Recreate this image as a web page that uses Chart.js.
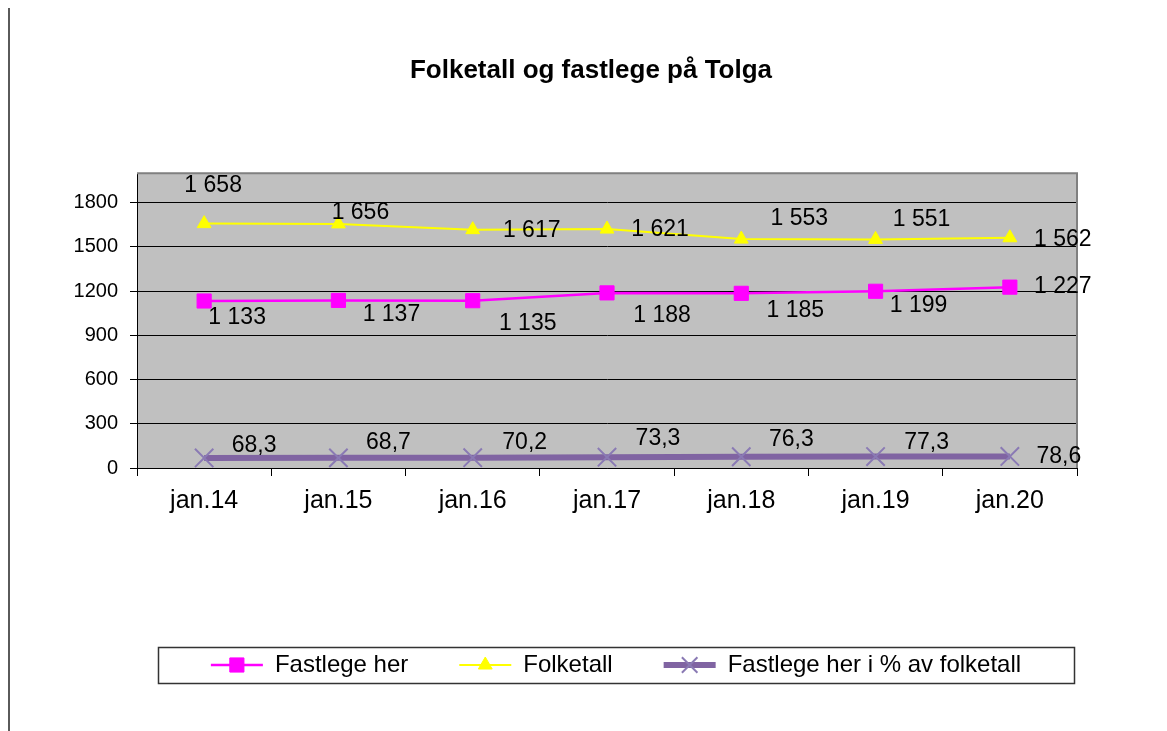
<!DOCTYPE html>
<html>
<head>
<meta charset="utf-8">
<title>Folketall og fastlege på Tolga</title>
<script src="https://cdn.jsdelivr.net/npm/chart.js@4.4.1/dist/chart.umd.min.js"></script>
<style>
  body { margin: 0; background: #fff; }
  #wrap { width: 1167px; height: 731px; }
</style>
</head>
<body>
<div id="wrap"><canvas id="chart" width="1167" height="731"></canvas></div>
<script>
// data
const categories = ["jan.14", "jan.15", "jan.16", "jan.17", "jan.18", "jan.19", "jan.20"];
const fastlegeHer = [1133, 1137, 1135, 1188, 1185, 1199, 1227];
const folketall = [1658, 1656, 1617, 1621, 1553, 1551, 1562];
const prosentAvFolketall = [68.3, 68.7, 70.2, 73.3, 76.3, 77.3, 78.6];
const yTickValues = [0, 300, 600, 900, 1200, 1500, 1800];

// where each value label sits relative to its point (px)
const labelOffsets = [
  [[33, 17], [53, 14], [55, 23], [55, 23], [54, 17], [43, 14], [53, 0]],
  [[9, -38], [22, -11], [59, 1], [53, 1], [58, -20], [46, -20], [53, 2]],
  [[50, -12], [50, -15], [52, -15], [51, -19], [50, -17], [51, -14], [49, 0]]
];

const FONT = "'Liberation Sans', Arial, sans-serif";

const formatValue = (v) => {
  if (v >= 1000) {
    return Math.floor(v / 1000) + " " + String(v % 1000).padStart(3, "0");
  }
  return v.toFixed(1).replace(".", ",");
};

const plotBackground = {
  id: "plotBackground",
  beforeDraw(chart) {
    const { ctx, chartArea: a } = chart;
    ctx.save();
    ctx.fillStyle = "#c0c0c0";
    ctx.fillRect(a.left, a.top, a.right - a.left, a.bottom - a.top);
    ctx.restore();
  },
  beforeDatasetsDraw(chart) {
    const { ctx, chartArea: a } = chart;
    ctx.save();
    ctx.strokeStyle = "#808080";
    ctx.lineWidth = 2;
    ctx.beginPath();
    ctx.moveTo(a.left, a.top);
    ctx.lineTo(a.right, a.top);
    ctx.lineTo(a.right, a.bottom);
    ctx.stroke();
    ctx.restore();
  }
};

const valueLabels = {
  id: "valueLabels",
  afterDatasetsDraw(chart) {
    const ctx = chart.ctx;
    ctx.save();
    ctx.font = "23px " + FONT;
    ctx.fillStyle = "#000";
    ctx.textAlign = "center";
    ctx.textBaseline = "middle";
    chart.data.datasets.forEach((ds, i) => {
      chart.getDatasetMeta(i).data.forEach((pt, j) => {
        const [dx, dy] = labelOffsets[i][j];
        ctx.fillText(formatValue(ds.data[j]), pt.x + dx, pt.y + dy);
      });
    });
    ctx.restore();
  }
};

// legend sits in a framed box, with a line + marker sample per series
const legendFrame = {
  id: "legendFrame",
  afterLayout(chart) {
    chart.legend.left = 158;
    chart.legend.right = 1074;
    chart.titleBlock.left = 105;
    chart.titleBlock.right = 1077;
  },
  afterDraw(chart) {
    const { ctx, legend } = chart;
    ctx.save();
    legend.legendHitBoxes.forEach((hb, i) => {
      const ds = chart.data.datasets[i];
      const y = hb.top + hb.height / 2;
      const w = legend.options.labels.boxWidth;
      ctx.strokeStyle = ds.borderColor;
      ctx.lineWidth = ds.borderWidth;
      ctx.beginPath();
      ctx.moveTo(hb.left, y);
      ctx.lineTo(hb.left + w, y);
      ctx.stroke();
      ctx.fillStyle = ds.pointBackgroundColor;
      ctx.strokeStyle = ds.pointBorderColor;
      ctx.lineWidth = ds.pointBorderWidth;
      Chart.helpers.drawPoint(ctx, {
        pointStyle: ds.pointStyle,
        radius: ds.legendRadius,
        rotation: 0,
        borderWidth: ds.pointBorderWidth
      }, hb.left + w / 2, y);
    });
    ctx.strokeStyle = "#333";
    ctx.lineWidth = 1.5;
    ctx.strokeRect(158.5, 647.5, 916, 36);

    // page margin line on the left
    ctx.strokeStyle = "#5a5a5a";
    ctx.lineWidth = 2;
    ctx.beginPath();
    ctx.moveTo(9, 8);
    ctx.lineTo(9, 731);
    ctx.stroke();
    ctx.restore();
  }
};

new Chart(document.getElementById("chart"), {
  type: "line",
  data: {
    labels: categories,
    datasets: [
      {
        label: "Fastlege her",
        data: fastlegeHer,
        borderColor: "#ff00ff",
        borderWidth: 2.5,
        pointStyle: "rect",
        pointRadius: 10,
        legendRadius: 10,
        pointBackgroundColor: "#ff00ff",
        pointBorderColor: "#ff00ff",
        pointBorderWidth: 1,
        tension: 0
      },
      {
        label: "Folketall",
        data: folketall,
        borderColor: "#ffff00",
        borderWidth: 2,
        pointStyle: "triangle",
        pointRadius: 8,
        legendRadius: 8,
        pointBackgroundColor: "#ffff00",
        pointBorderColor: "#ffff00",
        pointBorderWidth: 1,
        tension: 0
      },
      {
        label: "Fastlege her i % av folketall",
        data: prosentAvFolketall,
        borderColor: "#8064a2",
        borderWidth: 6,
        pointStyle: "crossRot",
        pointRadius: 13,
        legendRadius: 11,
        pointBackgroundColor: "#8a7ab4",
        pointBorderColor: "#8a7ab4",
        pointBorderWidth: 2,
        tension: 0
      }
    ]
  },
  options: {
    responsive: false,
    animation: false,
    layout: { padding: { left: 0, right: 90, top: 0, bottom: 44 } },
    plugins: {
      title: {
        display: true,
        text: "Folketall og fastlege på Tolga",
        color: "#000",
        font: { family: FONT, size: 26, weight: "bold" },
        padding: { top: 55, bottom: 87 }
      },
      legend: {
        position: "bottom",
        labels: {
          color: "#000",
          font: { family: FONT, size: 24 },
          boxWidth: 52,
          boxHeight: 24,
          padding: 51,
          generateLabels(chart) {
            return Chart.defaults.plugins.legend.labels.generateLabels(chart).map((item) => ({
              ...item,
              fillStyle: "rgba(0,0,0,0)",
              strokeStyle: "rgba(0,0,0,0)",
              lineWidth: 0
            }));
          }
        }
      },
      tooltip: { enabled: false }
    },
    scales: {
      x: {
        offset: true,
        afterFit(scale) { scale.height = 134; },
        grid: { offset: true, drawOnChartArea: false, color: "#000", tickLength: 8 },
        border: { color: "#000", width: 1 },
        ticks: { color: "#000", font: { family: FONT, size: 25 }, padding: 10 }
      },
      y: {
        min: 0,
        max: 2000,
        afterFit(scale) { scale.width = 137; },
        afterBuildTicks(scale) { scale.ticks = yTickValues.map((value) => ({ value })); },
        grid: { color: "#000", lineWidth: 1, tickLength: 7 },
        border: { color: "#000", width: 1 },
        ticks: {
          color: "#000",
          font: { family: FONT, size: 20 },
          padding: 12,
          callback: (value) => String(value)
        }
      }
    }
  },
  plugins: [plotBackground, valueLabels, legendFrame]
});
</script>
</body>
</html>
